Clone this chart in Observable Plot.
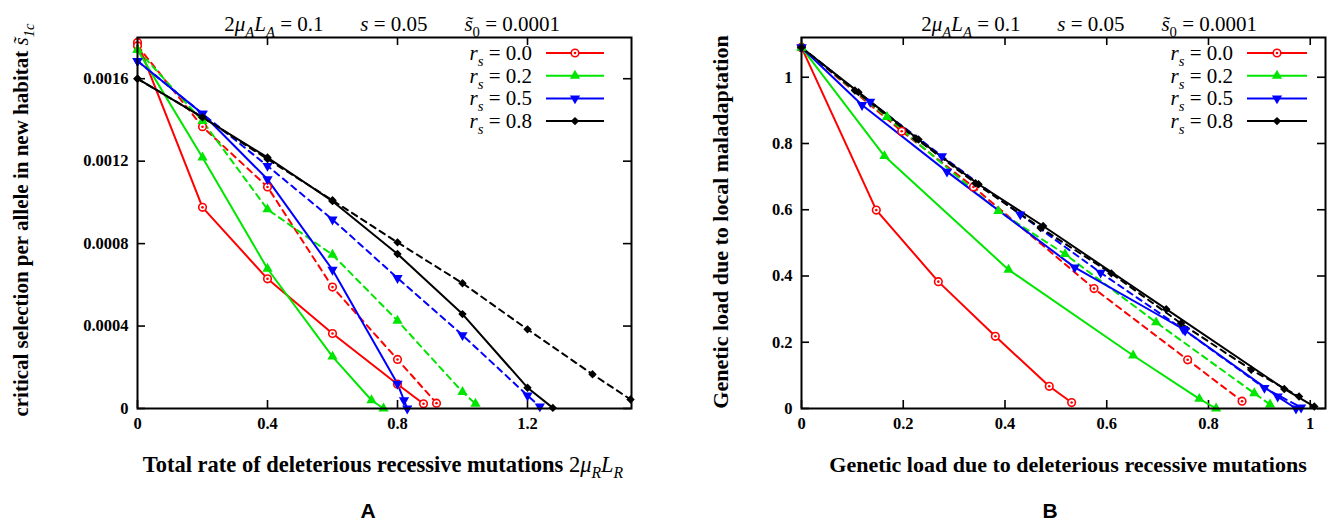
<!DOCTYPE html>
<html><head><meta charset="utf-8">
<script src="https://cdn.jsdelivr.net/npm/d3@7"></script>
<script src="https://cdn.jsdelivr.net/npm/@observablehq/plot@0.6"></script>
<style>
html,body{margin:0;padding:0;background:#fff;}
#wrap{position:relative;width:1327px;height:523px;overflow:hidden;background:#fff;}
#wrap svg{position:absolute;top:0;overflow:visible;}
text{white-space:pre;}
</style></head><body><div id="wrap"></div>
<script>
// ---------- legend / series ----------
const rsLabels = ["0.0", "0.2", "0.5", "0.8"];
const colors = ["#ff0000", "#00e600", "#0000ff", "#000000"];

// ---------- Panel A : x = 2 mu_R L_R, y = critical selection s1c ----------
const aSolidX_00 = [0, 0.2, 0.4, 0.6, 0.8, 0.88];
const aSolidY_00 = [0.001776, 0.000976, 0.000629, 0.000364, 0.000118, 0.000023];
const aDashX_00  = [0, 0.2, 0.4, 0.6, 0.8, 0.92];
const aDashY_00  = [0.00176, 0.001367, 0.001075, 0.000589, 0.000238, 0.000026];
const aSolidX_02 = [0, 0.2, 0.4, 0.6, 0.72, 0.757];
const aSolidY_02 = [0.00174, 0.001218, 0.000678, 0.000252, 0.00004, 0];
const aDashX_02  = [0, 0.2, 0.4, 0.6, 0.8, 1.0, 1.04];
const aDashY_02  = [0.00174, 0.001395, 0.000966, 0.000746, 0.000426, 0.00008, 0.000023];
const aSolidX_05 = [0, 0.2, 0.4, 0.6, 0.8, 0.82, 0.83];
const aSolidY_05 = [0.001686, 0.00143, 0.001112, 0.000673, 0.00012, 0.00004, 0];
const aDashX_05  = [0, 0.2, 0.4, 0.6, 0.8, 1.0, 1.2, 1.238];
const aDashY_05  = [0.001686, 0.00143, 0.001177, 0.000917, 0.000633, 0.000356, 0.000063, 0.00001];
const aSolidX_08 = [0, 0.2, 0.4, 0.6, 0.8, 1.0, 1.2, 1.278];
const aSolidY_08 = [0.0016, 0.001413, 0.001218, 0.001006, 0.00075, 0.000458, 0.000101, 0.000003];
const aDashX_08  = [0, 0.2, 0.4, 0.6, 0.8, 1.0, 1.2, 1.4, 1.517];
const aDashY_08  = [0.0016, 0.001413, 0.00121, 0.00101, 0.000806, 0.000608, 0.000384, 0.000166, 0.000044];
const aXTicks = [0, 0.4, 0.8, 1.2];
const aXTickLabels = ["0", "0.4", "0.8", "1.2"];
const aYTicks = [0, 0.0004, 0.0008, 0.0012, 0.0016];
const aYTickLabels = ["0", "0.0004", "0.0008", "0.0012", "0.0016"];

// ---------- Panel B : x = load (recessive), y = load (maladaptation) ----------
const bSolidX_00 = [0, 0.147, 0.269, 0.381, 0.487, 0.531];
const bSolidY_00 = [1.09, 0.599, 0.383, 0.218, 0.067, 0.018];
const bDashX_00  = [0, 0.197, 0.338, 0.575, 0.759, 0.866];
const bDashY_00  = [1.09, 0.837, 0.669, 0.362, 0.147, 0.022];
const bSolidX_02 = [0, 0.163, 0.407, 0.652, 0.782, 0.815];
const bSolidY_02 = [1.09, 0.762, 0.419, 0.16, 0.029, 0];
const bDashX_02  = [0, 0.168, 0.387, 0.518, 0.697, 0.89, 0.921];
const bDashY_02  = [1.09, 0.88, 0.596, 0.466, 0.26, 0.046, 0.012];
const bSolidX_05 = [0, 0.119, 0.286, 0.537, 0.75, 0.936, 0.972];
const bSolidY_05 = [1.09, 0.916, 0.715, 0.426, 0.24, 0.036, 0];
const bDashX_05  = [0, 0.135, 0.276, 0.43, 0.588, 0.754, 0.91, 0.982];
const bDashY_05  = [1.09, 0.926, 0.762, 0.586, 0.41, 0.235, 0.062, 0.003];
const bSolidX_08 = [0, 0.112, 0.23, 0.348, 0.475, 0.717, 0.949, 1.008];
const bSolidY_08 = [1.09, 0.955, 0.812, 0.677, 0.551, 0.30, 0.059, 0.006];
const bDashX_08  = [0, 0.105, 0.225, 0.342, 0.47, 0.609, 0.746, 0.884, 0.978];
const bDashY_08  = [1.09, 0.96, 0.815, 0.68, 0.545, 0.408, 0.257, 0.117, 0.036];
const bXTicks = [0, 0.2, 0.4, 0.6, 0.8, 1];
const bXTickLabels = ["0", "0.2", "0.4", "0.6", "0.8", "1"];
const bYTicks = [0, 0.2, 0.4, 0.6, 0.8, 1];
const bYTickLabels = ["0", "0.2", "0.4", "0.6", "0.8", "1"];

// ---------- helpers ----------
function toRows(series, xs, ys) { return xs.map((x, i) => ({series, x, y: ys[i]})); }

const triDown = {draw(ctx, size) {
  const y = -Math.sqrt(size / (Math.sqrt(3) * 3));
  ctx.moveTo(0, -y * 2); ctx.lineTo(-Math.sqrt(3) * y, y); ctx.lineTo(Math.sqrt(3) * y, y); ctx.closePath();
}};
const symbolRange = ["circle", "triangle", triDown, "diamond2"];

const SERIF = "'Liberation Serif', 'Times New Roman', serif";

function addText(svg, x, y, parts, o = {}) {
  const size = o.size || 16;
  const t = svg.append("text").attr("x", x).attr("y", y)
    .attr("text-anchor", o.anchor || "middle")
    .attr("font-family", o.family || SERIF)
    .attr("font-size", size).attr("font-weight", o.weight || "normal").attr("fill", "black")
    .style("white-space", "pre");
  if (o.rotate) t.attr("transform", `rotate(${o.rotate},${x},${y})`);
  let shifted = 0;
  for (const p of parts) {
    const [s, st = ""] = Array.isArray(p) ? p : [p, ""];
    const ts = t.append("tspan").text(s);
    const want = st.includes("sub") ? size * 0.28 : 0;
    if (want !== shifted) { ts.attr("dy", want - shifted); shifted = want; }
    if (st.includes("sub")) ts.attr("font-size", size * 0.7);
    if (st.includes("i")) ts.attr("font-style", "italic");
    if (st.includes("n")) ts.attr("font-weight", "normal");
  }
  return t;
}

function panel(cfg) {
  const solid = [], dashed = [];
  rsLabels.forEach((s, k) => { solid.push(...toRows(s, cfg.solidX[k], cfg.solidY[k])); dashed.push(...toRows(s, cfg.dashX[k], cfg.dashY[k])); });
  const all = solid.concat(dashed);
  const red = all.filter(d => d.series === "0.0");
  const others = all.filter(d => d.series !== "0.0");
  const fmt = (ticks, labels) => d => { const i = ticks.findIndex(t => Math.abs(t - d) < 1e-12); return i < 0 ? "" : labels[i]; };
  // inward tick length expressed through the scale domains (8 px)
  const plotW = cfg.width - cfg.ml - cfg.mr, plotH = 523 - 37 - 115, T = 8;
  const dxT = (cfg.xDomain[1] - cfg.xDomain[0]) * T / plotW;
  const dyT = (cfg.yDomain[1] - cfg.yDomain[0]) * T / plotH;
  const [xa, xb] = cfg.xDomain, [ya, yb] = cfg.yDomain;
  const svgEl = Plot.plot({
    width: cfg.width, height: 523,
    marginLeft: cfg.ml, marginRight: cfg.mr, marginTop: 37, marginBottom: 115,
    x: {domain: cfg.xDomain}, y: {domain: cfg.yDomain},
    color: {domain: rsLabels, range: colors},
    symbol: {domain: rsLabels, range: symbolRange},
    style: {fontFamily: SERIF, fontSize: "16px", color: "black", background: "white", overflow: "visible"},
    marks: [
      Plot.axisX({anchor: "bottom", ticks: cfg.xTicks, tickSize: 0, tickPadding: 9, tickFormat: fmt(cfg.xTicks, cfg.xTickLabels), fontWeight: "bold", fontSize: 16.5, label: null}),
      Plot.axisY({anchor: "left", ticks: cfg.yTicks, tickSize: 0, tickPadding: 9, tickFormat: fmt(cfg.yTicks, cfg.yTickLabels), fontWeight: "bold", fontSize: 16.5, label: null}),
      Plot.ruleX(cfg.xTicks, {x: d => d, y1: ya, y2: ya + dyT, stroke: "black", strokeWidth: 1.6}),
      Plot.ruleX(cfg.xTicks, {x: d => d, y1: yb - dyT, y2: yb, stroke: "black", strokeWidth: 1.6}),
      Plot.ruleY(cfg.yTicks, {y: d => d, x1: xa, x2: xa + dxT, stroke: "black", strokeWidth: 1.6}),
      Plot.ruleY(cfg.yTicks, {y: d => d, x1: xb - dxT, x2: xb, stroke: "black", strokeWidth: 1.6}),
      Plot.line(dashed, {x: "x", y: "y", z: "series", stroke: "series", strokeWidth: 2, strokeDasharray: "6,5"}),
      Plot.line(solid, {x: "x", y: "y", z: "series", stroke: "series", strokeWidth: 2}),
      Plot.dot(red, {x: "x", y: "y", r: 3.8, stroke: "#ff0000", strokeWidth: 1.6, fill: "white"}),
      Plot.dot(red, {x: "x", y: "y", r: 1.3, fill: "#ff0000"}),
      Plot.dot(others, {x: "x", y: "y", symbol: "series", fill: "series", r: 3.8}),
      Plot.frame({stroke: "black", strokeWidth: 2})
    ]
  });
  svgEl.style.left = cfg.left + "px";
  document.getElementById("wrap").appendChild(svgEl);
  const svg = d3.select(svgEl);
  // title
  addText(svg, cfg.titleEnd, 31, [["2"], ["μ", "i"], ["A", "i sub"], ["L", "i"], ["A", "i sub"], [" = 0.1       "], ["s", "i"], [" = 0.05       "], ["s\u0303", "i"], ["0", "sub"], [" = 0.0001"]], {size: 21, anchor: "end"});
  // legend
  rsLabels.forEach((s, k) => {
    const yy = 53 + k * 22.7;
    addText(svg, cfg.legText, yy + 7, [["r", "i"], ["s", "i sub"], [" = " + s]], {size: 21, anchor: "end"});
    svg.append("line").attr("x1", cfg.legLine[0]).attr("x2", cfg.legLine[1]).attr("y1", yy).attr("y2", yy)
      .attr("stroke", colors[k]).attr("stroke-width", 2);
    const cx = (cfg.legLine[0] + cfg.legLine[1]) / 2;
    if (k === 0) {
      svg.append("circle").attr("cx", cx).attr("cy", yy).attr("r", 3.8).attr("fill", "white").attr("stroke", colors[0]).attr("stroke-width", 1.6);
      svg.append("circle").attr("cx", cx).attr("cy", yy).attr("r", 1.3).attr("fill", colors[0]);
    } else {
      const sym = [null, d3.symbolTriangle, triDown, d3.symbolDiamond2][k];
      svg.append("path").attr("d", d3.symbol(sym, 3.8 * 3.8 * Math.PI)()).attr("transform", `translate(${cx},${yy})`).attr("fill", colors[k]);
    }
  });
  // axis titles
  addText(svg, cfg.xLabX, 472, cfg.xLabel, {size: cfg.xLabSize, weight: "bold"});
  addText(svg, cfg.yLabX, cfg.yLabY, cfg.yLabel, {size: cfg.yLabSize, weight: "bold", rotate: -90});
  addText(svg, cfg.letterX, 518, [[cfg.letter]], {size: 21, weight: "bold", family: "'Liberation Sans', Arial, sans-serif"});
}

panel({
  left: 0, width: 660, ml: 137, mr: 29,
  xDomain: [0, 1.52], yDomain: [0, 0.0018],
  solidX: [aSolidX_00, aSolidX_02, aSolidX_05, aSolidX_08], solidY: [aSolidY_00, aSolidY_02, aSolidY_05, aSolidY_08],
  dashX: [aDashX_00, aDashX_02, aDashX_05, aDashX_08], dashY: [aDashY_00, aDashY_02, aDashY_05, aDashY_08],
  xTicks: aXTicks, xTickLabels: aXTickLabels, yTicks: aYTicks, yTickLabels: aYTickLabels,
  titleEnd: 560, legText: 532, legLine: [546, 604],
  xLabX: 383, xLabSize: 22.5, xLabel: [["Total rate of deleterious recessive mutations "], ["2", "n"], ["μ", "i n"], ["R", "i n sub"], ["L", "i n"], ["R", "i n sub"]],
  yLabX: 28, yLabY: 220, yLabSize: 21, yLabel: [["critical selection per allele in new habitat "], ["s\u0303", "i n"], ["1c", "i n sub"]],
  letterX: 368, letter: "A"
});

panel({
  left: 660, width: 667, ml: 141, mr: 2,
  xDomain: [0, 1.03], yDomain: [0, 1.12],
  solidX: [bSolidX_00, bSolidX_02, bSolidX_05, bSolidX_08], solidY: [bSolidY_00, bSolidY_02, bSolidY_05, bSolidY_08],
  dashX: [bDashX_00, bDashX_02, bDashX_05, bDashX_08], dashY: [bDashY_00, bDashY_02, bDashY_05, bDashY_08],
  xTicks: bXTicks, xTickLabels: bXTickLabels, yTicks: bYTicks, yTickLabels: bYTickLabels,
  titleEnd: 1257 - 660, legText: 1233 - 660, legLine: [1247 - 660, 1307 - 660],
  xLabX: 1068 - 660, xLabSize: 22, xLabel: [["Genetic load due to deleterious recessive mutations"]],
  yLabX: 728 - 660, yLabY: 222, yLabSize: 22, yLabel: [["Genetic load due to local maladaptation"]],
  letterX: 1050 - 660, letter: "B"
});
</script></body></html>
